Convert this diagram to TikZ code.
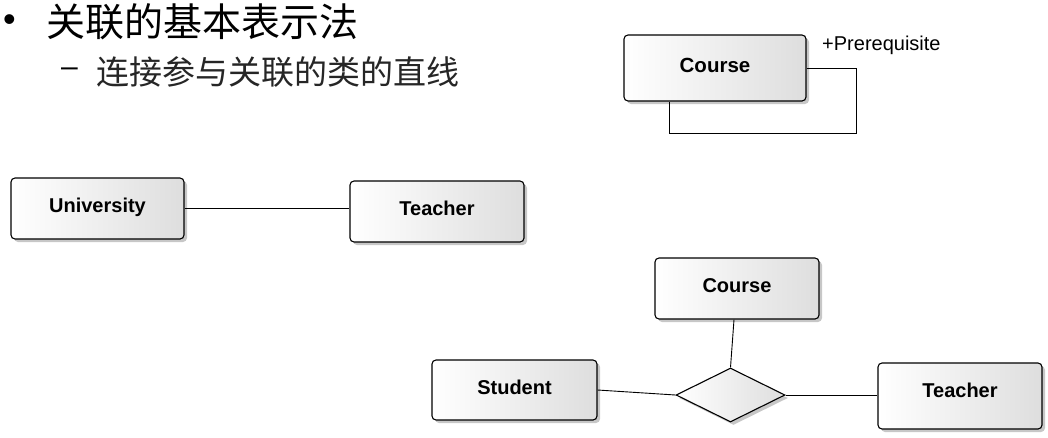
\documentclass[tikz,border=0pt]{standalone}
\usepackage{fontspec}
\setmainfont{Liberation Sans}
\newfontfamily\cjk{Noto Sans CJK SC}
\usetikzlibrary{shapes.geometric,shadows}
\tikzset{
  cls/.style={draw=black, line width=1.1pt, rounded corners=4pt,
    left color=white, right color=black!13,
    drop shadow={shadow xshift=3pt, shadow yshift=-3pt, fill=black, opacity=0.22},
    font=\bfseries\fontsize{20}{23}\selectfont, inner sep=0pt,
    text height=14pt, text depth=6pt},
  rel/.style={draw=black, line width=1.1pt, diamond, aspect=2.02,
    minimum width=109pt, minimum height=54pt, inner sep=0pt,
    left color=white, right color=black!13,
    drop shadow={shadow xshift=3pt, shadow yshift=-3pt, fill=black, opacity=0.22}},
  conn/.style={draw=black, line width=0.9pt},
  txt/.style={inner sep=0pt, anchor=west}
}
\begin{document}
\begin{tikzpicture}[x=1pt,y=-1pt]
\fill[white] (0,0) rectangle (1048,437);
\useasboundingbox (0,0) rectangle (1048,437);
% title
\node[txt] (bul) at (3,23) {\fontsize{36}{40}\selectfont •};
\node[txt] (title) at (46,22) {\cjk\fontsize{39}{42}\selectfont 关联的基本表示法};
\node[txt] (dash) at (61,72) {\fontsize{30}{34}\selectfont –};
\node[txt, text=black!85] (sub) at (96,72) {\cjk\fontsize{33}{36}\selectfont 连接参与关联的类的直线};
% self association
\node[cls, minimum width=182pt, minimum height=66pt, font=\bfseries\fontsize{20.5}{23}\selectfont] (course) at (715,68) {Course};
\coordinate (loopc) at (856,133);
\draw[conn] (course.east) -| (loopc) -| ([xshift=-46pt]course.south);
\node[txt, font=\fontsize{20}{23}\selectfont] (pre) at (822,45) {+Prerequisite};
% binary
\node[cls, minimum width=173pt, minimum height=61pt] (univ) at (97.5,208.5) {University};
\node[cls, minimum width=174pt, minimum height=61pt] (teacher) at (437,211.5) {Teacher};
\draw[conn] (univ.east) -- (univ.east -| teacher.west);
% n-ary
\node[cls, minimum width=164pt, minimum height=61pt] (course2) at (737,288.5) {Course};
\node[cls, minimum width=165pt, minimum height=60pt] (student) at (514.5,390) {Student};
\node[cls, minimum width=164pt, minimum height=66pt, text depth=12pt] (teacher2) at (960,396) {Teacher};
\node[rel] (dia) at (730.5,395) {};
\draw[conn] ([xshift=-3pt]course2.south) -- (dia.north);
\draw[conn] (student.east) -- (dia.west);
\draw[conn] (dia.east) -- (dia.east -| teacher2.west);
\end{tikzpicture}
\end{document}
